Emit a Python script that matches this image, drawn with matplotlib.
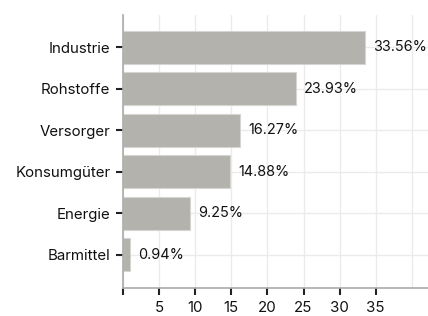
import matplotlib.pyplot as plt

categories = ["Barmittel", "Energie", "Konsumgüter", "Versorger", "Rohstoffe", "Industrie"]
values = [0.94, 9.25, 14.88, 16.27, 23.93, 33.56]
xticks = [0, 5, 10, 15, 20, 25, 30, 35]
xtick_labels = ["", "5", "10", "15", "20", "25", "30", "35"]

plt.rcParams['font.family'] = ['Inter', 'DejaVu Sans']
FS = 10.8

fig = plt.figure(figsize=(4.28, 3.16), dpi=100)
ax = fig.add_axes([123 / 428, (316 - 288) / 316, 305 / 428, (288 - 15) / 316])

pos = list(range(len(categories)))
ax.barh(pos, values, height=0.8, color='#b3b2ad', edgecolor='#d6d5d1', linewidth=0.8, zorder=2)
for p, v in zip(pos, values):
    ax.text(v + 1.1, p, f"{v:.2f}%", va='center', ha='left', fontsize=10.4, color='#111111')

ax.set_yticks(pos)
ax.set_yticklabels(categories, fontsize=FS, color='#111111')
ax.set_xticks(xticks + [40])
ax.set_xticklabels(xtick_labels + [""], fontsize=FS, color='#111111')
ax.set_xlim(0, 305 / 7.22)
ax.set_ylim(-0.8, 5.78)

ax.grid(True, color='#ebebeb', linewidth=1, zorder=0)
ax.set_axisbelow(True)
for s in ['top', 'right']:
    ax.spines[s].set_visible(False)
for s in ['left', 'bottom']:
    ax.spines[s].set_color('#aaaaaa')
    ax.spines[s].set_linewidth(1.2)
ax.tick_params(axis='y', length=5, width=1.5, color='#222222', pad=4)
ax.tick_params(axis='x', length=5, width=1.5, color='#222222', pad=4)
# hide tick for 40 (only grid line there)
ax.xaxis.get_major_ticks()[-1].tick1line.set_visible(False)

fig.savefig('out.png', dpi=100)
